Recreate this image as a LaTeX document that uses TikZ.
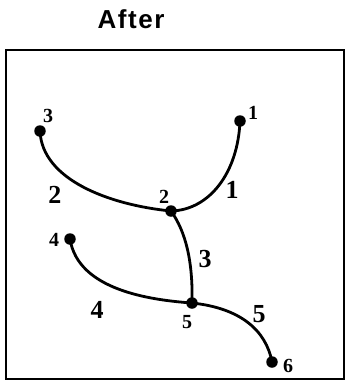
\documentclass[tikz,border=0pt]{standalone}
\usepackage{fontspec}
\setmainfont{Liberation Serif}
\newfontfamily\titlefont[LetterSpace=6]{Liberation Sans}
\begin{document}
\begin{tikzpicture}[x=1pt,y=-1pt,
  dotnode/.style={circle,fill=black,inner sep=0pt,minimum size=11.5pt},
  vlabel/.style={font=\fontsize{20}{20}\selectfont\bfseries,inner sep=0pt},
  elabel/.style={font=\fontsize{26}{26}\selectfont\bfseries,inner sep=0pt},
  curve/.style={line width=2.8pt,line cap=round}]
\useasboundingbox (0,0) rectangle (346,389);
\node[font=\titlefont\fontsize{26}{26}\selectfont\bfseries] (title) at (131,19) {After};
\draw[line width=2.2pt] (6,50) rectangle (344,379);
\node[dotnode] (n3) at (40,131) {};
\node[dotnode] (n1) at (240,121) {};
\node[dotnode] (n2) at (171,211) {};
\node[dotnode] (n4) at (70,239) {};
\node[dotnode] (n5) at (192,303) {};
\node[dotnode] (n6) at (272,362) {};
\node[vlabel] (l3) at (48,116) {3};
\node[vlabel] (l1) at (253,113) {1};
\node[vlabel] (l2) at (164,197) {2};
\node[vlabel] (l4) at (54,240) {4};
\node[vlabel] (l5) at (187,322) {5};
\node[vlabel] (l6) at (288,366) {6};
\draw[curve] (n3.center) .. controls (42,180) and (110,205) .. (n2.center);
\draw[curve] (n1.center) .. controls (238,172) and (210,210) .. (n2.center);
\draw[curve] (n2.center) .. controls (186,232) and (193,262) .. (n5.center);
\draw[curve] (n4.center) .. controls (78,290) and (150,300) .. (n5.center);
\draw[curve] (n5.center) .. controls (240,308) and (266,330) .. (n6.center);
\node[elabel] (e2) at (55,195) {2};
\node[elabel] (e1) at (232,190) {1};
\node[elabel] (e3) at (205,259) {3};
\node[elabel] (e4) at (97,310) {4};
\node[elabel] (e5) at (259,314) {5};
\end{tikzpicture}
\end{document}
